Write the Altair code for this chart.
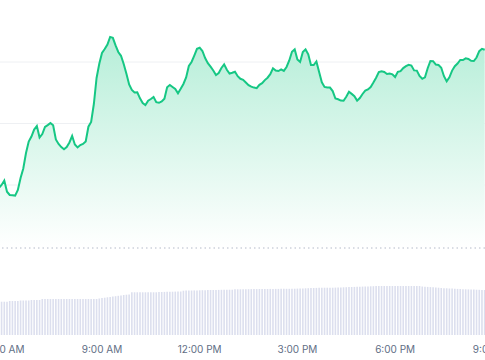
import altair as alt
import pandas as pd

# Price (arbitrary quote units), one value every 5 minutes from 05:50 to 20:45
price = [
    1.120, 1.150, 1.195, 1.083, 1.050, 1.048, 1.044, 1.100, 1.220, 1.315,
    1.470, 1.585, 1.635, 1.704, 1.740, 1.625, 1.660, 1.730, 1.749, 1.770,
    1.747, 1.605, 1.560, 1.529, 1.507, 1.529, 1.575, 1.640, 1.555, 1.526,
    1.550, 1.560, 1.585, 1.733, 1.780, 1.960, 2.220, 2.363, 2.470, 2.510,
    2.555, 2.631, 2.622, 2.546, 2.480, 2.442, 2.360, 2.262, 2.156, 2.100,
    2.075, 2.077, 2.017, 1.970, 1.950, 1.993, 2.010, 2.030, 1.979, 1.972,
    1.985, 2.013, 2.127, 2.150, 2.130, 2.110, 2.067, 2.112, 2.160, 2.225,
    2.340, 2.380, 2.444, 2.512, 2.523, 2.490, 2.420, 2.369, 2.333, 2.295,
    2.250, 2.270, 2.320, 2.356, 2.302, 2.265, 2.272, 2.283, 2.238, 2.212,
    2.202, 2.175, 2.149, 2.134, 2.124, 2.118, 2.152, 2.168, 2.199, 2.223,
    2.258, 2.317, 2.294, 2.290, 2.306, 2.291, 2.330, 2.395, 2.483, 2.506,
    2.405, 2.380, 2.480, 2.506, 2.457, 2.350, 2.350, 2.385, 2.280, 2.177,
    2.131, 2.125, 2.124, 2.089, 2.015, 2.007, 1.994, 1.993, 2.032, 2.083,
    2.061, 2.038, 1.994, 2.020, 2.060, 2.094, 2.106, 2.130, 2.174, 2.222,
    2.279, 2.287, 2.280, 2.260, 2.265, 2.257, 2.230, 2.281, 2.288, 2.319,
    2.338, 2.352, 2.344, 2.296, 2.294, 2.240, 2.212, 2.227, 2.318, 2.390,
    2.388, 2.354, 2.350, 2.323, 2.238, 2.187, 2.227, 2.294, 2.338, 2.365,
    2.400, 2.400, 2.417, 2.410, 2.392, 2.390, 2.425, 2.488, 2.512, 2.502,
]

# 24h volume (millions), same timestamps
volume = [
    33.3, 33.3, 33.3, 33.3, 34.0, 34.0, 34.0, 34.0, 34.5, 34.5,
    34.5, 34.5, 35.0, 35.0, 35.0, 35.0, 36.0, 36.0, 36.0, 36.0,
    36.0, 36.0, 36.0, 36.0, 36.0, 36.0, 36.0, 36.0, 36.0, 36.0,
    36.0, 36.0, 36.0, 36.0, 36.0, 36.0, 36.0, 36.5, 37.0, 37.3,
    37.7, 38.0, 38.4, 38.8, 39.2, 39.6, 40.0, 40.3, 40.5, 42.7,
    42.7, 42.7, 42.7, 42.7, 42.7, 42.7, 42.7, 42.7, 42.7, 43.0,
    43.0, 43.1, 43.2, 43.2, 43.3, 43.4, 43.5, 43.5, 44.3, 44.4,
    44.4, 44.5, 44.6, 44.6, 44.7, 44.8, 44.8, 44.9, 45.0, 45.0,
    45.1, 45.1, 45.2, 45.2, 45.3, 45.3, 45.3, 45.7, 45.7, 45.7,
    45.8, 45.8, 45.8, 45.9, 45.9, 45.9, 46.0, 46.0, 46.0, 46.0,
    46.1, 46.1, 46.1, 46.1, 46.2, 46.2, 46.2, 46.2, 46.2, 46.3,
    46.4, 46.5, 46.6, 46.7, 46.8, 46.9, 47.0, 47.1, 47.2, 47.2,
    47.3, 47.3, 47.3, 47.3, 47.4, 47.5, 47.6, 47.7, 47.8, 47.9,
    48.0, 48.1, 48.2, 48.3, 48.4, 48.5, 48.6, 48.7, 48.8, 48.9,
    49.0, 49.0, 49.0, 49.0, 49.0, 49.0, 49.0, 49.0, 49.0, 49.0,
    49.0, 49.0, 49.0, 49.0, 49.0, 49.0, 48.5, 48.3, 48.1, 47.9,
    47.7, 47.5, 47.3, 47.0, 46.8, 46.7, 46.5, 46.4, 46.2, 46.1,
    46.0, 45.8, 45.7, 45.6, 45.5, 45.4, 45.3, 45.2, 45.1, 45.0,
]

# x-axis tick labels
tick_times = [
    "2024-05-01T06:00:00Z", "2024-05-01T09:00:00Z", "2024-05-01T12:00:00Z",
    "2024-05-01T15:00:00Z", "2024-05-01T18:00:00Z", "2024-05-01T21:00:00Z",
]
tick_labels = ["6:00 AM", "9:00 AM", "12:00 PM", "3:00 PM", "6:00 PM", "9:00 PM"]

grid_levels = [2.38, 1.765, 1.15]
open_price = 0.52

times = [
    t.strftime("%Y-%m-%dT%H:%M:%SZ")
    for t in pd.date_range("2024-05-01 05:50", periods=len(price), freq="5min")
]

df = pd.DataFrame({"time": times, "price": price, "volume": volume})
df["open"] = open_price
df["zero"] = 0.0
grid_df = pd.DataFrame({"level": grid_levels})
open_df = pd.DataFrame({"level": [open_price]})
tick_df = pd.DataFrame({"time": tick_times, "label": tick_labels})

t0 = pd.Timestamp("2024-05-01 05:52:06", tz="UTC").value // 10**6
t1 = pd.Timestamp("2024-05-01 20:45:36", tz="UTC").value // 10**6
x_scale = alt.Scale(type="utc", domain=[t0, t1])
price_scale = alt.Scale(domain=[-0.4, 3.0], nice=False, zero=False)
vol_scale = alt.Scale(domain=[-5, 335], nice=False, zero=False)

X = alt.X("time:T", scale=x_scale, axis=None)

vol = alt.Chart(df).mark_rule(strokeWidth=1.6, color="#dcdfee").encode(
    x=X,
    y=alt.Y("volume:Q", scale=vol_scale, axis=None),
    y2="zero:Q",
)

ticks = alt.Chart(tick_df).mark_text(
    font="Inter", fontSize=10, color="#616e85", align="center", baseline="alphabetic"
).encode(
    x=X,
    y=alt.value(352.5),
    text="label:N",
)

grid = alt.Chart(grid_df).mark_rule(color="#eef0f3", strokeWidth=1).encode(
    y=alt.Y("level:Q", scale=price_scale, axis=None),
)

gradient = alt.Gradient(
    gradient="linear",
    stops=[
        alt.GradientStop(color="#b6eed8", offset=0),
        alt.GradientStop(color="#ffffff", offset=1),
    ],
    x1=0, x2=0, y1=0, y2=1,
)

area = alt.Chart(df).mark_area(color=gradient, opacity=1).encode(
    x=X,
    y=alt.Y("price:Q", scale=price_scale, axis=None),
    y2="open:Q",
)

open_rule = alt.Chart(open_df).mark_rule(
    color="#b3bac8", strokeWidth=1, strokeDash=[1.5, 3]
).encode(
    y=alt.Y("level:Q", scale=price_scale, axis=None),
)

line = alt.Chart(df).mark_line(color="#16c784", strokeWidth=2).encode(
    x=X,
    y=alt.Y("price:Q", scale=price_scale, axis=None),
)

chart = (
    alt.layer(vol, ticks, grid, area, open_rule, line)
    .resolve_scale(y="independent")
    .properties(
        width=485,
        height=340,
        padding={"left": 0, "right": 0, "top": 0, "bottom": 20},
        autosize=alt.AutoSizeParams(type="none"),
    )
    .configure_view(strokeWidth=0)
)

chart.save("out.html", embed_options={"renderer": "svg", "actions": False})
